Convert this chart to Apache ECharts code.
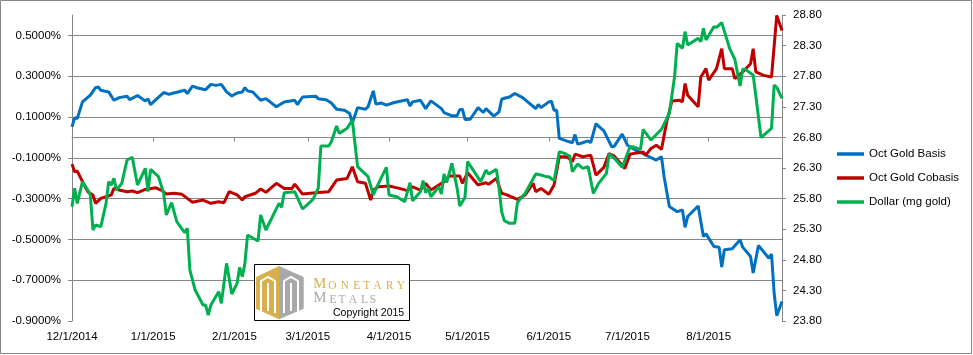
<!DOCTYPE html>
<html><head><meta charset="utf-8">
<script src="https://cdn.jsdelivr.net/npm/echarts@6/dist/echarts.min.js"></script>
<style>html,body{margin:0;padding:0;background:#fff}#c{width:973px;height:355px}</style>
</head><body><div id="c"></div>
<script>
const seriesNames = ['Oct Gold Basis', 'Oct Gold Cobasis', 'Dollar (mg gold)'];

const basisDates = ['2014-12-01','2014-12-02','2014-12-03','2014-12-05','2014-12-08','2014-12-10','2014-12-11','2014-12-12','2014-12-15','2014-12-17','2014-12-19','2014-12-22','2014-12-23','2014-12-26','2014-12-29','2014-12-30','2014-12-31','2015-01-02','2015-01-05','2015-01-07','2015-01-08','2015-01-10','2015-01-13','2015-01-14','2015-01-16','2015-01-18','2015-01-21','2015-01-23','2015-01-25','2015-01-27','2015-01-29','2015-01-31','2015-02-02','2015-02-04','2015-02-05','2015-02-06','2015-02-08','2015-02-11','2015-02-13','2015-02-17','2015-02-20','2015-02-24','2015-02-25','2015-02-27','2015-03-04','2015-03-05','2015-03-08','2015-03-10','2015-03-12','2015-03-15','2015-03-17','2015-03-18','2015-03-20','2015-03-23','2015-03-24','2015-03-26','2015-03-27','2015-03-29','2015-03-31','2015-04-03','2015-04-08','2015-04-09','2015-04-10','2015-04-13','2015-04-15','2015-04-17','2015-04-21','2015-04-22','2015-04-25','2015-04-27','2015-04-28','2015-04-29','2015-04-30','2015-05-02','2015-05-05','2015-05-07','2015-05-08','2015-05-11','2015-05-13','2015-05-14','2015-05-15','2015-05-17','2015-05-19','2015-05-22','2015-05-27','2015-05-28','2015-05-29','2015-06-01','2015-06-02','2015-06-03','2015-06-04','2015-06-05','2015-06-08','2015-06-10','2015-06-11','2015-06-12','2015-06-13','2015-06-16','2015-06-17','2015-06-19','2015-06-20','2015-06-22','2015-06-25','2015-06-26','2015-06-29','2015-07-01','2015-07-04','2015-07-07','2015-07-08','2015-07-12','2015-07-14','2015-07-15','2015-07-17','2015-07-20','2015-07-22','2015-07-23','2015-07-24','2015-07-28','2015-07-30','2015-07-31','2015-08-03','2015-08-05','2015-08-06','2015-08-07','2015-08-10','2015-08-13','2015-08-14','2015-08-17','2015-08-18','2015-08-20','2015-08-24','2015-08-25','2015-08-26','2015-08-27','2015-08-29'];
const basisValues = [0.052,0.097,0.092,0.174,0.207,0.244,0.247,0.231,0.223,0.182,0.195,0.202,0.185,0.205,0.179,0.189,0.161,0.185,0.220,0.211,0.215,0.221,0.231,0.215,0.251,0.242,0.234,0.260,0.255,0.260,0.223,0.203,0.218,0.223,0.244,0.228,0.223,0.182,0.190,0.150,0.174,0.182,0.161,0.198,0.202,0.190,0.185,0.169,0.138,0.133,0.117,0.071,0.146,0.138,0.150,0.228,0.163,0.169,0.158,0.171,0.185,0.154,0.174,0.182,0.141,0.179,0.141,0.122,0.106,0.106,0.136,0.138,0.088,0.089,0.146,0.122,0.141,0.104,0.125,0.187,0.192,0.198,0.215,0.195,0.141,0.161,0.146,0.174,0.177,0.133,0.133,-0.005,-0.018,-0.026,0.014,-0.033,-0.030,-0.017,-0.026,0.068,0.055,0.032,-0.046,-0.043,0.016,-0.038,-0.062,-0.079,-0.087,-0.111,-0.095,-0.193,-0.339,-0.364,-0.356,-0.441,-0.388,-0.336,-0.486,-0.473,-0.535,-0.538,-0.636,-0.551,-0.546,-0.502,-0.538,-0.584,-0.665,-0.530,-0.592,-0.572,-0.763,-0.874,-0.804];

const cobasisDates = ['2014-12-01','2014-12-02','2014-12-03','2014-12-05','2014-12-07','2014-12-09','2014-12-10','2014-12-12','2014-12-14','2014-12-16','2014-12-17','2014-12-19','2014-12-22','2014-12-24','2014-12-26','2014-12-29','2015-01-02','2015-01-04','2015-01-06','2015-01-09','2015-01-12','2015-01-14','2015-01-16','2015-01-20','2015-01-23','2015-01-26','2015-01-28','2015-01-30','2015-02-02','2015-02-04','2015-02-05','2015-02-09','2015-02-11','2015-02-13','2015-02-17','2015-02-20','2015-02-23','2015-02-24','2015-02-27','2015-03-04','2015-03-09','2015-03-12','2015-03-16','2015-03-18','2015-03-20','2015-03-23','2015-03-25','2015-03-26','2015-03-28','2015-04-01','2015-04-05','2015-04-08','2015-04-10','2015-04-13','2015-04-15','2015-04-17','2015-04-22','2015-04-24','2015-04-28','2015-04-29','2015-05-01','2015-05-05','2015-05-08','2015-05-09','2015-05-12','2015-05-14','2015-05-16','2015-05-20','2015-05-23','2015-05-26','2015-05-27','2015-05-29','2015-06-01','2015-06-03','2015-06-05','2015-06-08','2015-06-10','2015-06-11','2015-06-14','2015-06-17','2015-06-19','2015-06-22','2015-06-24','2015-06-26','2015-06-30','2015-07-02','2015-07-05','2015-07-07','2015-07-08','2015-07-10','2015-07-12','2015-07-14','2015-07-16','2015-07-18','2015-07-21','2015-07-22','2015-07-23','2015-07-24','2015-07-28','2015-07-29','2015-07-31','2015-08-01','2015-08-04','2015-08-06','2015-08-07','2015-08-10','2015-08-11','2015-08-14','2015-08-17','2015-08-18','2015-08-19','2015-08-22','2015-08-25','2015-08-27','2015-08-29'];
const cobasisValues = [-0.131,-0.168,-0.165,-0.217,-0.266,-0.282,-0.323,-0.299,-0.291,-0.282,-0.250,-0.258,-0.266,-0.263,-0.271,-0.255,-0.247,-0.258,-0.277,-0.274,-0.279,-0.299,-0.318,-0.307,-0.323,-0.315,-0.320,-0.266,-0.282,-0.307,-0.291,-0.274,-0.253,-0.269,-0.225,-0.250,-0.250,-0.229,-0.278,-0.271,-0.266,-0.209,-0.201,-0.144,-0.217,-0.225,-0.307,-0.258,-0.242,-0.238,-0.250,-0.261,-0.242,-0.258,-0.225,-0.258,-0.217,-0.189,-0.189,-0.225,-0.173,-0.233,-0.222,-0.230,-0.201,-0.274,-0.282,-0.304,-0.282,-0.225,-0.266,-0.250,-0.279,-0.233,-0.095,-0.095,-0.119,-0.082,-0.095,-0.087,-0.185,-0.147,-0.079,-0.092,-0.152,-0.082,-0.075,-0.071,-0.087,-0.054,-0.038,-0.059,0.076,0.179,0.182,0.174,0.264,0.207,0.150,0.296,0.337,0.280,0.337,0.435,0.337,0.337,0.288,0.321,0.361,0.435,0.321,0.304,0.296,0.598,0.524];

const dollarDates = ['2014-12-01','2014-12-02','2014-12-03','2014-12-05','2014-12-07','2014-12-08','2014-12-09','2014-12-10','2014-12-12','2014-12-14','2014-12-15','2014-12-16','2014-12-17','2014-12-18','2014-12-20','2014-12-22','2014-12-24','2014-12-26','2014-12-29','2014-12-30','2014-12-31','2015-01-03','2015-01-05','2015-01-06','2015-01-08','2015-01-10','2015-01-13','2015-01-14','2015-01-15','2015-01-17','2015-01-20','2015-01-21','2015-01-22','2015-01-23','2015-01-26','2015-01-27','2015-01-29','2015-01-31','2015-02-02','2015-02-03','2015-02-04','2015-02-05','2015-02-06','2015-02-10','2015-02-11','2015-02-13','2015-02-18','2015-02-19','2015-02-20','2015-02-24','2015-02-27','2015-03-03','2015-03-05','2015-03-06','2015-03-09','2015-03-10','2015-03-12','2015-03-13','2015-03-16','2015-03-18','2015-03-19','2015-03-20','2015-03-24','2015-03-26','2015-03-28','2015-03-31','2015-04-01','2015-04-04','2015-04-07','2015-04-09','2015-04-10','2015-04-13','2015-04-14','2015-04-15','2015-04-16','2015-04-17','2015-04-20','2015-04-21','2015-04-22','2015-04-23','2015-04-25','2015-04-27','2015-04-28','2015-04-30','2015-05-01','2015-05-06','2015-05-08','2015-05-09','2015-05-12','2015-05-13','2015-05-14','2015-05-15','2015-05-17','2015-05-19','2015-05-20','2015-05-21','2015-05-23','2015-05-27','2015-05-29','2015-05-31','2015-06-01','2015-06-03','2015-06-05','2015-06-07','2015-06-09','2015-06-10','2015-06-12','2015-06-14','2015-06-16','2015-06-18','2015-06-20','2015-06-23','2015-06-24','2015-06-26','2015-06-29','2015-07-02','2015-07-03','2015-07-06','2015-07-07','2015-07-10','2015-07-14','2015-07-17','2015-07-19','2015-07-20','2015-07-22','2015-07-23','2015-07-24','2015-07-28','2015-07-29','2015-07-30','2015-07-31','2015-08-03','2015-08-04','2015-08-06','2015-08-09','2015-08-11','2015-08-13','2015-08-14','2015-08-15','2015-08-18','2015-08-21','2015-08-25','2015-08-26','2015-08-27','2015-08-29'];
const dollarValues = [25.668,25.968,25.722,26.077,25.940,25.859,25.287,25.368,25.341,25.722,26.077,26.022,26.131,25.940,26.049,26.431,26.474,26.022,26.294,25.913,26.278,26.158,25.886,25.532,25.733,25.423,25.243,25.314,24.633,24.306,24.061,24.061,23.898,24.061,24.279,24.088,24.742,24.241,24.415,24.677,24.524,24.742,25.205,25.107,25.532,25.287,25.722,25.657,25.897,25.913,25.630,25.788,25.968,26.659,26.659,26.730,26.986,26.866,26.948,27.084,26.703,26.322,26.158,25.859,26.049,26.311,25.859,25.831,25.750,26.060,25.766,25.913,26.093,25.897,25.968,25.831,25.995,25.875,26.202,26.060,26.376,25.968,25.679,25.820,26.403,26.077,26.267,26.202,26.278,25.968,25.586,25.439,25.396,25.396,25.733,25.788,25.886,26.202,26.185,26.158,26.158,26.093,26.567,26.540,26.496,26.240,26.365,26.294,26.322,25.886,26.049,26.213,26.529,26.458,26.311,26.648,26.648,26.605,26.932,26.757,26.932,27.193,27.792,28.337,28.255,28.528,28.310,28.419,28.364,28.582,28.391,28.609,28.598,28.675,28.255,28.076,27.640,27.912,27.912,27.820,26.796,26.948,27.656,27.618,27.438];

const seriesColors = ['#0070C0', '#C00000', '#00B050'];

const zip = (d, v) => d.map((x, i) => [x, v[i]]);
const FONT = 'Liberation Sans, Arial, sans-serif';
const AX = '#868686';

function fmtDate(val) {
  const d = new Date(val);
  return (d.getMonth() + 1) + '/' + d.getDate() + '/' + d.getFullYear();
}

const chart = echarts.init(document.getElementById('c'), null, { renderer: 'canvas' });

// logo graphic elements
const gold = '#D6B04A', grey = '#A9A9A9';
const logo = [
  { type: 'rect', shape: { x: 254.5, y: 264.5, width: 155, height: 56 }, style: { fill: '#fff', stroke: '#000', lineWidth: 1 }, z: 50 },
  { type: 'polygon', shape: { points: [[279, 266], [256, 277], [256, 308.7], [279, 319.3]] }, style: { fill: gold }, z: 51 },
  { type: 'polygon', shape: { points: [[279, 266], [303.7, 277], [303.7, 308.7], [279, 319.3]] }, style: { fill: grey }, z: 51 },
  { type: 'polyline', shape: { points: [[261, 313], [261, 281], [268, 277], [275, 281], [275, 313]] }, style: { stroke: '#fff', lineWidth: 2, fill: null }, z: 52 },
  { type: 'polyline', shape: { points: [[268, 283], [268, 311]] }, style: { stroke: '#fff', lineWidth: 2 }, z: 52 },
  { type: 'polyline', shape: { points: [[284, 313], [284, 281], [291, 277], [298, 281], [298, 313]] }, style: { stroke: '#fff', lineWidth: 2, fill: null }, z: 52 },
  { type: 'polyline', shape: { points: [[291, 283], [291, 311]] }, style: { stroke: '#fff', lineWidth: 2 }, z: 52 }
];
const word1 = [['M', 319.7, true], ['O', 332.5], ['N', 345], ['E', 356.7], ['T', 366.7], ['A', 377.5], ['R', 389.5], ['Y', 401]];
const word2 = [['M', 320, true], ['E', 333], ['T', 342], ['A', 353], ['L', 364.5], ['S', 373]];
word1.forEach(w => logo.push({ type: 'text', z: 53, style: { text: w[0], x: w[1], y: 291.5, align: 'center', verticalAlign: 'bottom', font: (w[2] ? '15px' : '11.5px') + ' Liberation Serif, serif', fill: gold } }));
word2.forEach(w => logo.push({ type: 'text', z: 53, style: { text: w[0], x: w[1], y: 306, align: 'center', verticalAlign: 'bottom', font: (w[2] ? '15px' : '11.5px') + ' Liberation Serif, serif', fill: grey } }));
logo.push({ type: 'text', z: 53, style: { text: 'Copyright 2015', x: 333, y: 313.5, align: 'left', verticalAlign: 'middle', font: '10.5px ' + FONT, fill: '#000' } });
logo.push({ type: 'rect', shape: { x: 0.5, y: 0.5, width: 971, height: 353 }, style: { fill: null, stroke: AX, lineWidth: 1 }, z: 0, silent: true });

chart.setOption({
  animation: false,
  backgroundColor: '#fff',
  grid: { left: 72, top: 15, width: 710, height: 306, containLabel: false },
  legend: {
    orient: 'vertical', left: 837, top: 148, padding: 0, itemWidth: 27, itemHeight: 3.5, itemGap: 12,
    icon: 'rect',
    textStyle: { fontFamily: FONT, fontSize: 11.5, color: '#000' },
    data: seriesNames
  },
  xAxis: {
    type: 'time',
    min: '2014-12-01', max: '2015-08-29',
    splitNumber: 9,
    minInterval: 28 * 86400000,
    axisLine: { lineStyle: { color: AX, width: 1 } },
    axisTick: { show: true, length: 4, lineStyle: { color: AX } },
    axisLabel: { formatter: fmtDate, color: '#000', fontFamily: FONT, fontSize: 11.5, margin: 10, hideOverlap: false },
    splitLine: { show: false }
  },
  yAxis: [
    {
      type: 'value', min: -0.9, max: 0.6, interval: 0.2,
      axisLine: { show: true, lineStyle: { color: AX } },
      axisTick: { show: true, length: 4, lineStyle: { color: AX } },
      axisLabel: { formatter: v => v.toFixed(4) + '%', color: '#000', fontFamily: FONT, fontSize: 11.5, margin: 11, showMaxLabel: false },
      splitLine: { show: true, showMaxLine: false, showMinLine: false, lineStyle: { color: AX, width: 1 } }
    },
    {
      type: 'value', min: 23.8, max: 28.8, interval: 0.5, position: 'right',
      axisLine: { show: true, lineStyle: { color: AX } },
      axisTick: { show: true, length: 4, lineStyle: { color: AX } },
      axisLabel: { formatter: v => v.toFixed(2), color: '#000', fontFamily: FONT, fontSize: 11.5, margin: 11 },
      splitLine: { show: false }
    }
  ],
  graphic: logo,
  series: [
    { name: seriesNames[0], type: 'line', yAxisIndex: 0, data: zip(basisDates, basisValues), showSymbol: false, symbol: 'none', lineStyle: { width: 3, color: seriesColors[0] }, itemStyle: { color: seriesColors[0] } },
    { name: seriesNames[1], type: 'line', yAxisIndex: 0, data: zip(cobasisDates, cobasisValues), showSymbol: false, symbol: 'none', lineStyle: { width: 3, color: seriesColors[1] }, itemStyle: { color: seriesColors[1] } },
    { name: seriesNames[2], type: 'line', yAxisIndex: 1, data: zip(dollarDates, dollarValues), showSymbol: false, symbol: 'none', lineStyle: { width: 3, color: seriesColors[2] }, itemStyle: { color: seriesColors[2] } }
  ]
});
</script></body></html>
